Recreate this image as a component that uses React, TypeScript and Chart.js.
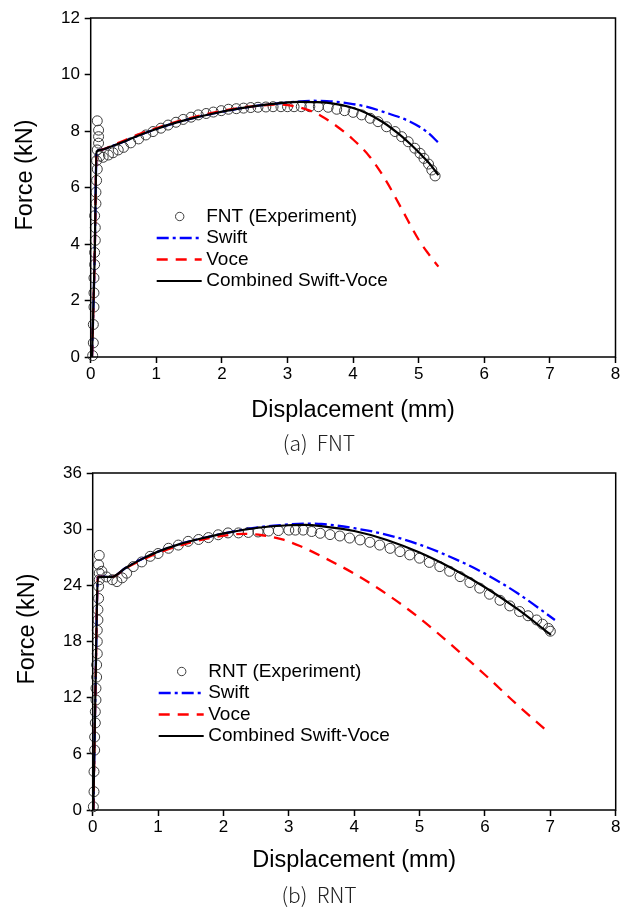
import React, { useEffect, useRef } from "react";
import { Chart, registerables } from "chart.js";

Chart.register(...registerables);

const FONT = "'Liberation Sans', Arial, Helvetica, sans-serif";

// ---------- axis ticks ----------
const xTicksMax = 8;
const fntYMax = 12;
const fntYStep = 2;
const rntYMax = 36;
const rntYStep = 6;

// ---------- legend labels ----------
const fntLabels = ["FNT (Experiment)", "Swift", "Voce", "Combined Swift-Voce"];
const rntLabels = ["RNT (Experiment)", "Swift", "Voce", "Combined Swift-Voce"];
const captions = ["(a)  FNT", "(b)  RNT"];

// ---------- FNT data ----------
const fntExpX = [0.03, 0.04, 0.04, 0.05, 0.05, 0.05, 0.06, 0.06, 0.07, 0.07, 0.06, 0.08, 0.08, 0.09, 0.1, 0.09, 0.1, 0.12, 0.12, 0.12, 0.1,
  0.14, 0.19, 0.27, 0.34, 0.42, 0.5, 0.61, 0.73, 0.84, 0.95, 1.07, 1.18, 1.3, 1.41, 1.53, 1.64, 1.76, 1.87, 1.99, 2.1, 2.22, 2.33, 2.44,
  2.55, 2.67, 2.78, 2.9, 3.0, 3.1, 3.21, 3.34, 3.47, 3.62, 3.75, 3.87, 4.0, 4.13, 4.26, 4.38, 4.51, 4.64, 4.74, 4.84, 4.94, 5.02, 5.08,
  5.15, 5.2, 5.25];
const fntExpY = [0.05, 0.5, 1.15, 1.77, 2.27, 2.8, 3.27, 3.7, 4.13, 4.58, 5.0, 5.43, 5.83, 6.25, 6.65, 6.95, 7.33, 7.57, 7.8, 8.03, 8.36,
  7.11, 7.07, 7.15, 7.23, 7.33, 7.42, 7.58, 7.72, 7.86, 7.98, 8.1, 8.21, 8.31, 8.41, 8.49, 8.57, 8.62, 8.67, 8.72, 8.77, 8.79, 8.81, 8.83,
  8.84, 8.85, 8.86, 8.86, 8.86, 8.86, 8.86, 8.86, 8.86, 8.84, 8.77, 8.72, 8.66, 8.57, 8.45, 8.33, 8.15, 7.98, 7.8, 7.62, 7.39, 7.21, 7.03,
  6.83, 6.62, 6.41];

const fntSwiftX = [0.02, 0.06, 0.09, 0.14, 0.34, 0.5, 0.75, 1.0, 1.25, 1.5, 1.87, 2.25, 2.5, 2.83, 3.1, 3.39, 3.6, 3.95, 4.2, 4.46, 4.87, 5.12, 5.3];
const fntSwiftY = [0, 3.5, 7.27, 7.33, 7.48, 7.62, 7.86, 8.07, 8.26, 8.42, 8.62, 8.79, 8.88, 8.97, 9.03, 9.07, 9.06, 8.97, 8.86, 8.68, 8.33, 7.98, 7.59];

const fntVoceX = [0.02, 0.06, 0.09, 0.14, 0.34, 0.5, 0.75, 1.0, 1.25, 1.5, 1.87, 2.25, 2.5, 2.85, 3.1, 3.34, 3.5, 3.75, 4.0, 4.25, 4.5, 4.75, 5.0, 5.15, 5.3];
const fntVoceY = [0, 3.5, 7.27, 7.33, 7.5, 7.65, 7.9, 8.1, 8.29, 8.45, 8.65, 8.81, 8.88, 8.94, 8.88, 8.72, 8.55, 8.17, 7.7, 7.1, 6.25, 5.2, 4.15, 3.65, 3.2];

const fntCombX = [0.02, 0.06, 0.09, 0.14, 0.34, 0.5, 0.75, 1.0, 1.25, 1.5, 1.87, 2.25, 2.5, 2.83, 3.19, 3.45, 3.7, 3.95, 4.2, 4.45, 4.71, 4.88, 5.02, 5.16, 5.3];
const fntCombY = [0, 3.5, 7.27, 7.33, 7.48, 7.62, 7.86, 8.07, 8.26, 8.42, 8.62, 8.79, 8.88, 8.97, 9.03, 9.02, 8.97, 8.85, 8.64, 8.32, 7.87, 7.52, 7.2, 6.86, 6.44];

// ---------- RNT data ----------
const rntExpX = [0.01, 0.02, 0.02, 0.03, 0.03, 0.04, 0.04, 0.05, 0.05, 0.06, 0.06, 0.07, 0.07, 0.07, 0.08, 0.08, 0.09, 0.09, 0.1, 0.1, 0.09, 0.1,
  0.14, 0.21, 0.3, 0.37, 0.45, 0.52, 0.62, 0.75, 0.88, 1.0, 1.16, 1.31, 1.46, 1.62, 1.77, 1.92, 2.07, 2.23, 2.38, 2.53, 2.69, 2.84, 3.0,
  3.1, 3.22, 3.35, 3.48, 3.63, 3.78, 3.93, 4.09, 4.24, 4.39, 4.55, 4.7, 4.85, 5.0, 5.15, 5.31, 5.46, 5.62, 5.77, 5.92, 6.07, 6.23, 6.38,
  6.53, 6.66, 6.79, 6.88, 6.97, 7.0];
const rntExpY = [0.35, 1.96, 4.1, 6.4, 7.8, 9.3, 10.5, 11.75, 13.0, 14.2, 15.5, 16.7, 18.0, 19.2, 20.3, 21.4, 22.6, 23.9, 24.6, 25.3, 26.2, 27.2,
  25.5, 24.9, 24.6, 24.4, 24.8, 25.3, 26.0, 26.5, 27.1, 27.4, 27.96, 28.3, 28.7, 28.9, 29.1, 29.4, 29.6, 29.6, 29.65, 29.7, 29.8, 29.85, 29.9,
  29.9, 29.9, 29.75, 29.56, 29.42, 29.27, 29.05, 28.85, 28.6, 28.3, 27.95, 27.6, 27.25, 26.9, 26.45, 26.0, 25.5, 24.93, 24.3, 23.7, 23.05, 22.4, 21.8,
  21.2, 20.75, 20.3, 19.85, 19.4, 19.1];

const rntSwiftX = [0.01, 0.04, 0.08, 0.29, 0.5, 0.75, 1.0, 1.33, 1.66, 2.05, 2.53, 2.9, 3.27, 3.5, 4.0, 4.5, 5.0, 5.5, 6.0, 6.5, 7.07];
const rntSwiftY = [0, 12, 24.9, 24.9, 25.85, 26.8, 27.6, 28.4, 29.0, 29.6, 30.2, 30.45, 30.6, 30.55, 30.1, 29.4, 28.35, 26.95, 25.25, 23.15, 20.3];

const rntVoceX = [0.01, 0.04, 0.08, 0.29, 0.5, 0.75, 1.0, 1.33, 1.66, 2.0, 2.3, 2.59, 2.9, 3.17, 3.5, 4.0, 4.5, 5.0, 5.5, 6.0, 6.5, 6.94];
const rntVoceY = [0, 12, 24.9, 24.9, 25.8, 26.7, 27.45, 28.25, 28.85, 29.3, 29.5, 29.35, 28.9, 28.2, 27.1, 25.25, 23.05, 20.5, 17.55, 14.45, 11.2, 8.5];

const rntCombX = [0.01, 0.04, 0.08, 0.29, 0.5, 0.75, 1.0, 1.33, 1.66, 2.05, 2.53, 3.0, 3.25, 3.52, 4.0, 4.5, 5.0, 5.5, 6.0, 6.5, 7.01];
const rntCombY = [0, 12, 24.9, 24.9, 25.85, 26.8, 27.6, 28.4, 29.0, 29.6, 30.15, 30.42, 30.45, 30.3, 29.8, 28.85, 27.5, 25.8, 23.8, 21.45, 18.7];

// ---------- styles ----------
const expColor = "#3c3c3c";
const swiftColor = "#0000ff";
const voceColor = "#ff0000";
const combColor = "#000000";
const swiftDash = [12, 4, 3, 4];
const voceDash = [11, 8];

type Area = { left: number; right: number; top: number; bottom: number };
type Spec = {
  top: number;
  height: number;
  area: Area;
  yMax: number;
  yStep: number;
  labels: string[];
  exp: [number[], number[]];
  swift: [number[], number[]];
  voce: [number[], number[]];
  comb: [number[], number[]];
};

const toXY = (xs: number[], ys: number[]) => xs.map((x, i) => ({ x, y: ys[i] }));

const specs: Spec[] = [
  {
    top: 0,
    height: 430,
    area: { left: 90.7, right: 615.5, top: 18, bottom: 357 },
    yMax: fntYMax,
    yStep: fntYStep,
    labels: fntLabels,
    exp: [fntExpX, fntExpY],
    swift: [fntSwiftX, fntSwiftY],
    voce: [fntVoceX, fntVoceY],
    comb: [fntCombX, fntCombY],
  },
  {
    top: 450,
    height: 430,
    area: { left: 92.7, right: 615.7, top: 23, bottom: 360 },
    yMax: rntYMax,
    yStep: rntYStep,
    labels: rntLabels,
    exp: [rntExpX, rntExpY],
    swift: [rntSwiftX, rntSwiftY],
    voce: [rntVoceX, rntVoceY],
    comb: [rntCombX, rntCombY],
  },
];

const decorPlugin = {
  id: "decor",
  afterDraw(chart: any) {
    const { ctx, chartArea: a } = chart;
    ctx.save();
    // frame
    ctx.strokeStyle = "#000";
    ctx.lineWidth = 1.5;
    ctx.setLineDash([]);
    ctx.strokeRect(a.left, a.top, a.right - a.left, a.bottom - a.top);

    // y axis title
    ctx.fillStyle = "#000";
    ctx.font = `23.5px ${FONT}`;
    ctx.textAlign = "center";
    ctx.textBaseline = "middle";
    ctx.translate(a.left - 65.5, (a.top + a.bottom) / 2 - 12.5);
    ctx.rotate(-Math.PI / 2);
    ctx.fillText("Force (kN)", 0, 0);
    ctx.restore();

    // legend
    const ds = chart.data.datasets;
    const x0 = a.left;
    const y0 = a.top + 198.5;
    const dy = 21.5;
    ctx.save();
    ctx.font = `19px ${FONT}`;
    ctx.textAlign = "left";
    ctx.textBaseline = "middle";
    ctx.fillStyle = "#000";
    ctx.beginPath();
    ctx.arc(x0 + 89, y0, 4.2, 0, Math.PI * 2);
    ctx.strokeStyle = expColor;
    ctx.lineWidth = 1;
    ctx.stroke();
    ctx.fillText(ds[0].label, x0 + 115.5, y0);
    for (let i = 1; i < 4; i++) {
      const y = y0 + dy * i;
      ctx.beginPath();
      ctx.strokeStyle = ds[i].borderColor;
      ctx.lineWidth = ds[i].borderWidth;
      ctx.setLineDash(ds[i].borderDash || []);
      ctx.moveTo(x0 + 66, y);
      ctx.lineTo(x0 + 111, y);
      ctx.stroke();
      ctx.setLineDash([]);
      ctx.fillText(ds[i].label, x0 + 115.5, y);
    }
    ctx.restore();
  },
};

function makeConfig(s: Spec): any {
  const tickFont = { family: FONT, size: 17 };
  return {
    type: "scatter",
    data: {
      datasets: [
        {
          label: s.labels[0],
          data: toXY(s.exp[0], s.exp[1]),
          showLine: false,
          pointStyle: "circle",
          pointRadius: 5,
          pointBorderWidth: 1,
          pointBorderColor: expColor,
          pointBackgroundColor: "rgba(0,0,0,0)",
          borderColor: expColor,
          borderWidth: 1,
          clip: false,
          order: 4,
        },
        {
          label: s.labels[1],
          data: toXY(s.swift[0], s.swift[1]),
          showLine: true,
          pointRadius: 0,
          borderColor: swiftColor,
          borderWidth: 2.3,
          borderDash: swiftDash,
          cubicInterpolationMode: "monotone",
          order: 3,
        },
        {
          label: s.labels[2],
          data: toXY(s.voce[0], s.voce[1]),
          showLine: true,
          pointRadius: 0,
          borderColor: voceColor,
          borderWidth: 2.3,
          borderDash: voceDash,
          cubicInterpolationMode: "monotone",
          order: 2,
        },
        {
          label: s.labels[3],
          data: toXY(s.comb[0], s.comb[1]),
          showLine: true,
          pointRadius: 0,
          borderColor: combColor,
          borderWidth: 2.2,
          cubicInterpolationMode: "monotone",
          order: 1,
        },
      ],
    },
    options: {
      responsive: false,
      animation: false,
      devicePixelRatio: 1,
      events: [],
      layout: {
        padding: { left: 0, top: s.area.top, right: 631 - s.area.right, bottom: 0 },
      },
      plugins: {
        legend: { display: false },
        tooltip: { enabled: false },
        title: { display: false },
      },
      scales: {
        x: {
          type: "linear",
          min: 0,
          max: xTicksMax,
          ticks: { stepSize: 1, font: tickFont, color: "#000", padding: 1, maxRotation: 0, autoSkip: false },
          grid: { display: true, drawOnChartArea: false, drawTicks: true, tickLength: 6, tickColor: "#000", tickWidth: 1.5 },
          border: { display: false },
          title: {
            display: true,
            text: "Displacement (mm)",
            color: "#000",
            font: { family: FONT, size: 23.5, lineHeight: 1 },
            padding: { top: 0, bottom: 8 },
          },
          afterFit: (sc: any) => {
            sc.height = s.height - s.area.bottom;
          },
        },
        y: {
          type: "linear",
          min: 0,
          max: s.yMax,
          ticks: { stepSize: s.yStep, font: tickFont, color: "#000", padding: 4.7, autoSkip: false },
          grid: { display: true, drawOnChartArea: false, drawTicks: true, tickLength: 6, tickColor: "#000", tickWidth: 1.5 },
          border: { display: false },
          title: { display: false },
          afterFit: (sc: any) => {
            sc.width = s.area.left;
          },
        },
      },
    },
    plugins: [decorPlugin],
  };
}

function ChartPanel({ spec }: { spec: Spec }) {
  const ref = useRef<HTMLCanvasElement | null>(null);
  useEffect(() => {
    if (!ref.current) return;
    const chart = new Chart(ref.current, makeConfig(spec));
    return () => chart.destroy();
  }, [spec]);
  return (
    <canvas
      ref={ref}
      width={631}
      height={spec.height}
      style={{ position: "absolute", left: 0, top: spec.top, width: 631, height: spec.height, display: "block" }}
    />
  );
}

const captionStyle = (centerY: number): React.CSSProperties => ({
  position: "absolute",
  left: 0,
  width: 638,
  top: centerY - 12,
  height: 24,
  lineHeight: "24px",
  textAlign: "center",
  whiteSpace: "pre",
  fontFamily: "'Noto Sans CJK KR', 'Noto Sans', sans-serif",
  fontWeight: 300,
  fontSize: 21,
  color: "#222",
});

export default function App() {
  return (
    <div style={{ position: "absolute", left: 0, top: 0, width: 631, height: 909, background: "#fff", overflow: "hidden" }}>
      <ChartPanel spec={specs[0]} />
      <div style={captionStyle(442)}>{captions[0]}</div>
      <ChartPanel spec={specs[1]} />
      <div style={captionStyle(894)}>{captions[1]}</div>
    </div>
  );
}
